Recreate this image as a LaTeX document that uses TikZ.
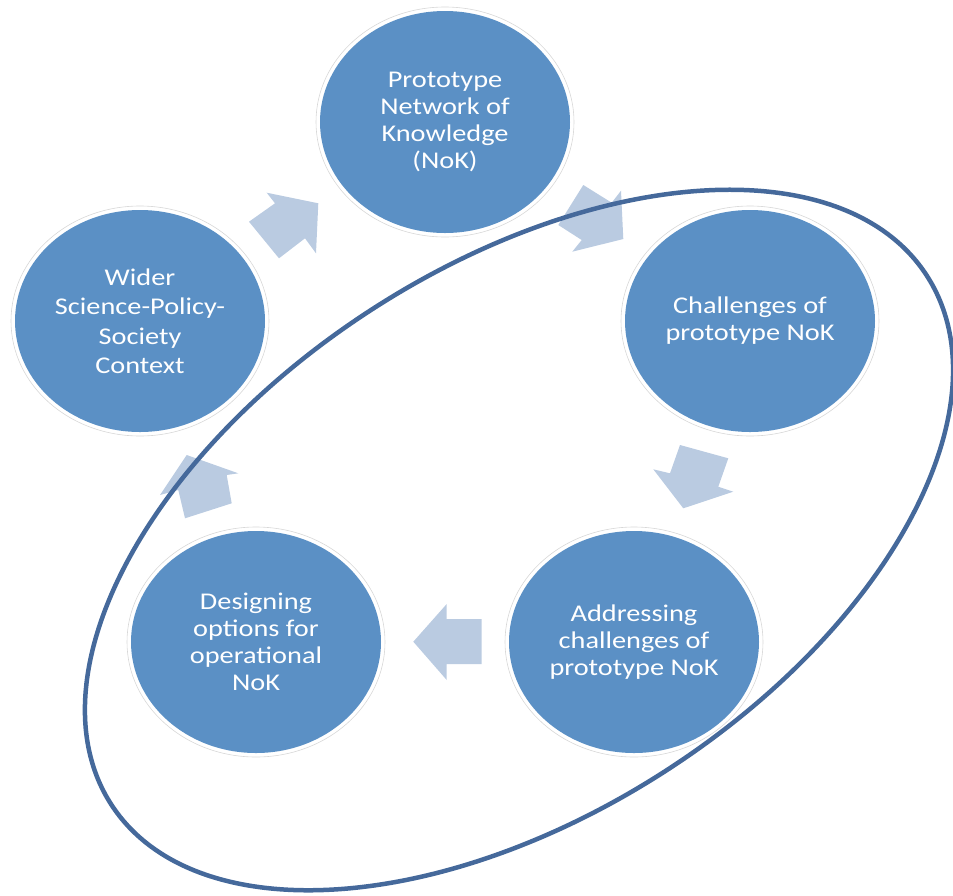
\documentclass[tikz,border=0pt]{standalone}
\usepackage{fontspec}
\newfontfamily\lblfont{Carlito}[FakeStretch=1.18]
\usetikzlibrary{shapes.geometric}
\definecolor{circfill}{RGB}{91,144,197}
\definecolor{arrowfill}{RGB}{186,203,225}
\definecolor{loopline}{RGB}{69,105,155}
\definecolor{ringgray}{RGB}{215,215,215}
\tikzset{
  stage/.style={ellipse, fill=circfill, minimum width=250pt, minimum height=222pt,
    inner sep=0pt, text=white, align=center, font=\lblfont\fontsize{24}{27}\selectfont},
  ring/.style={draw=ringgray, line width=0.6pt},
  blockarrow/.style={fill=arrowfill, draw=none},
  loopstroke/.style={draw=loopline, line width=4.5pt},
}
\begin{document}
\begin{tikzpicture}[x=1pt,y=-1pt]
\useasboundingbox (0,0) rectangle (953,895);

% block arrows
\fill[blockarrow] (249,221.7) -- (275,203.3) -- (266.7,192.7) -- (318.3,203.3) -- (316,253.3) -- (305,238.3) -- (279,258.3) -- cycle;
\fill[blockarrow] (558.3,225) -- (583.3,185) -- (611.7,202.7) -- (621,190.7) -- (623.3,239) -- (572.3,251.7) -- (581.7,240) -- cycle;
\fill[blockarrow] (680,445) -- (728.3,458.3) -- (718.3,486.7) -- (733.3,491.7) -- (683.3,508.3) -- (653.3,469.3) -- (670,473.3) -- cycle;
\fill[blockarrow] (481.7,619) -- (446.7,619) -- (446.7,604) -- (413.3,641.7) -- (446.7,680) -- (446.7,664) -- (481.7,664) -- cycle;
\fill[blockarrow] (231.7,503.3) -- (226.7,475) -- (238.3,473.3) -- (186.7,455) -- (160,495) -- (178.3,490) -- (185,518.3) -- cycle;

% stages
\node[stage] (proto) at (445,122) {Prototype\\Network of\\Knowledge\\(NoK)};
\node[stage, font=\lblfont\fontsize{24}{29.5}\selectfont] (wider) at (140,321) {Wider\\Science-Policy-\\Society\\Context};
\node[stage] (chall) at (750,321) {Challenges of\\prototype NoK};
\node[stage] (design) at (256,642) {Designing\\options for\\operational\\NoK};
\node[stage] (addr) at (634,642) {Addressing\\challenges of\\prototype NoK};

\foreach \n in {proto,wider,chall,design,addr}
  \draw[ring] (\n.center) ellipse [x radius=129, y radius=115];

% enclosing loop
\draw[loopstroke, shift={(519,540)}, rotate=33] (0,0) ellipse [x radius=486, y radius=273.5];
\end{tikzpicture}
\end{document}
